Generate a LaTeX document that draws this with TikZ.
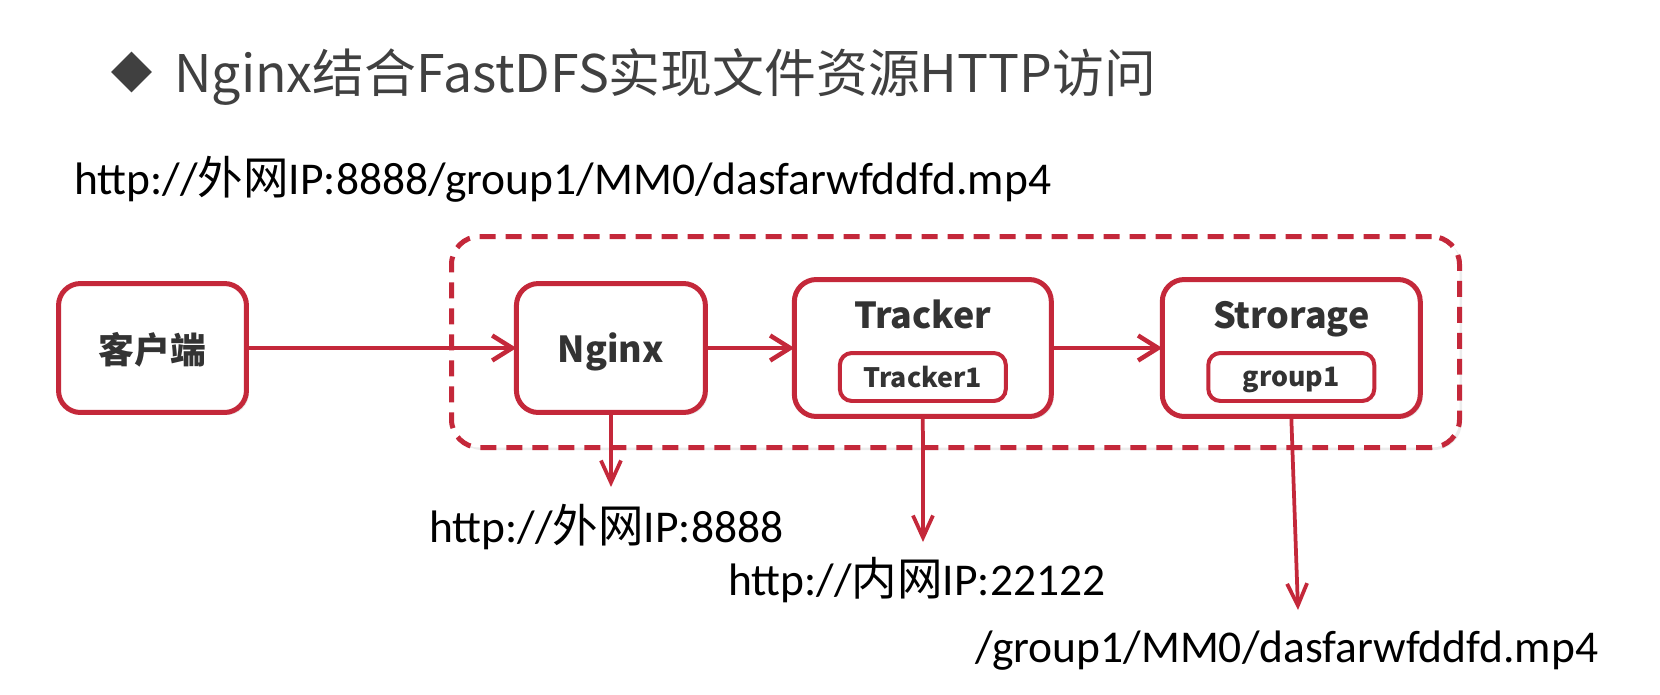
\documentclass[tikz,border=0pt]{standalone}
\usepackage{fontspec}
\setmainfont{Carlito}
\newfontfamily\cjk{Noto Sans CJK SC}
\usepackage{xcolor}
\usepackage{tikz}
\usetikzlibrary{shapes.geometric, arrows.meta, positioning, fit, shadows}
\definecolor{boxred}{RGB}{196,40,58}
\definecolor{labelgray}{RGB}{51,51,51}
\definecolor{titlegray}{RGB}{64,64,64}
\newcommand{\cjktext}[1]{{\cjk #1}}
\tikzset{
    base/.style={draw=boxred, line width=0.1cm, fill=white, inner sep=0pt, outer sep=0pt, text=labelgray, text depth=0pt},
    hostbox/.style={base, rectangle, rounded corners=0.44cm, minimum height=2.58cm, drop shadow={opacity=0.18, shadow xshift=0.05cm, shadow yshift=-0.05cm}, font=\cjk\bfseries\fontsize{20.4}{24}\selectfont},
    subbox/.style={base, rectangle, rounded corners=0.24cm, line width=0.08cm, minimum width=3.32cm, minimum height=0.96cm, font=\cjk\bfseries\fontsize{15.2}{18}\selectfont},
    clusterbox/.style={draw=boxred, line width=0.1cm, dash pattern=on 0.32cm off 0.2cm, rounded corners=0.56cm, fill=white, inner sep=0pt, outer sep=0pt, drop shadow={opacity=0.15, shadow xshift=0.05cm, shadow yshift=-0.05cm}},
    boxtitle/.style={font=\cjk\bfseries\fontsize{20.4}{24}\selectfont, text=labelgray, inner sep=0pt, anchor=base},
    pagetitle/.style={font=\cjk\fontsize{29.5}{35}\selectfont, text=titlegray, inner sep=0pt, anchor=base west},
    urltext/.style={font=\fontsize{25.9}{31}\selectfont, inner sep=0pt, anchor=base west},
    line/.style={draw=boxred, line width=0.09cm, -{Straight Barb[length=0.4cm, width=0.5cm]}},
    down-line/.style={draw=boxred, line width=0.075cm, -{Straight Barb[length=0.44cm, width=0.4cm]}}
}

\begin{document}
\begin{tikzpicture}[x=0.02cm, y=-0.02cm]
    \useasboundingbox (0,0) rectangle (1660,694);

    \node [diamond, fill=titlegray, minimum width=0.82cm, minimum height=0.82cm, inner sep=0pt] (bullet) at (131.5,72) {};
    \node [pagetitle] (title) at (174,92) {Nginx结合FastDFS实现文件资源HTTP访问};
    \node [urltext] (fullurl) at (74,194) {http://\cjktext{外网}IP:8888/group1/MM0/dasfarwfddfd.mp4};

    \coordinate (clustertl) at (451.5,236.5);
    \coordinate (clusterbr) at (1459.5,447.5);
    \node [clusterbox, fit=(clustertl)(clusterbr)] (cluster) {};

    \node [hostbox, minimum width=3.76cm] (client) at (152.5,348) {客户端};
    \node [hostbox, minimum width=3.78cm, right=5.4cm of client] (nginx) {Nginx};
    \node [hostbox, minimum width=5.14cm, minimum height=2.74cm, right=1.78cm of nginx] (tracker) {};
    \node [hostbox, minimum width=5.16cm, minimum height=2.74cm, right=2.22cm of tracker] (storage) {};

    \node [boxtitle] (trackertitle) at ([yshift=0.4cm]tracker.center) {Tracker};
    \node [boxtitle] (storagetitle) at ([yshift=0.4cm]storage.center) {Strorage};
    \node [subbox] (tracker1) at ([yshift=-0.58cm]tracker.center) {Tracker1};
    \node [subbox] (group1) at ([yshift=-0.58cm]storage.center) {group1};

    \draw [line] (client) -- (nginx);
    \draw [line] (nginx) -- (tracker);
    \draw [line] (tracker) -- (storage);

    \coordinate (nginxend) at (611,487);
    \coordinate (trackerend) at (923,542);
    \coordinate (storageend) at (1298,610);
    \draw [down-line] (nginx.south) -- (nginxend);
    \draw [down-line] (tracker.south) -- (trackerend);
    \draw [down-line] (storage.south) -- (storageend);

    \node [urltext] (nginxurl) at (429,542) {http://\cjktext{外网}IP:8888};
    \node [urltext] (trackerurl) at (728,595) {http://\cjktext{内网}IP:22122};
    \node [urltext] (storagepath) at (975,662) {/group1/MM0/dasfarwfddfd.mp4};
\end{tikzpicture}
\end{document}
